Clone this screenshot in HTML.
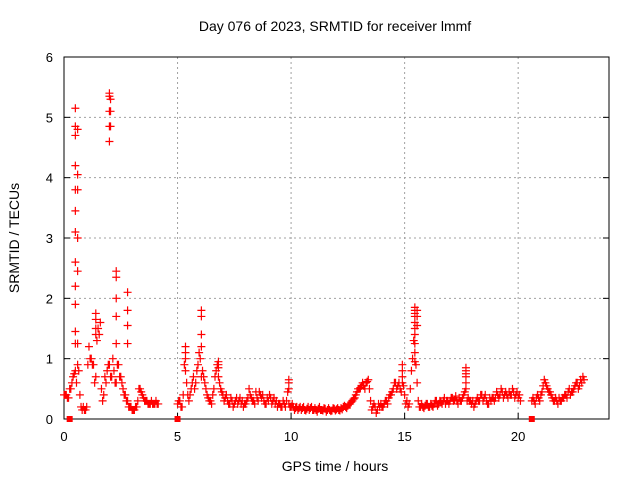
<!DOCTYPE html>
<html><head><meta charset="utf-8">
<style>
html,body{margin:0;padding:0;background:#fff;}
svg text{font-family:"Liberation Sans",sans-serif;fill:#000;}
</style></head>
<body>
<svg id="chart" width="640" height="480" viewBox="0 0 640 480">
  <text x="335" y="31" font-size="14" text-anchor="middle">Day 076 of 2023, SRMTID for receiver lmmf</text>
  <text x="335" y="471" font-size="14" text-anchor="middle">GPS time / hours</text>
  <text x="19" y="238" font-size="14" text-anchor="middle" transform="rotate(-90 19 238)">SRMTID / TECUs</text>
  <g id="grid"></g>
  <g id="axes"></g>
  <g id="marks"></g>
</svg>
<script>
const xTicks = [0,5,10,15,20];
const yTicks = [0,1,2,3,4,5,6];
const segAStart = 0.0, segBStart = 5.0, segCStart = 20.6, segStep = 0.1;
const segA2Start = 0.05, segB2Start = 5.05, segC2Start = 20.65;
const segAValues = [0.4,0.4,0.35,0.5,0.7,0.8,0.9,0.4,0.15,0.15,0.2,1.2,1.0,0.9,0.7,1.5,1.6,0.3,0.7,0.8,0.9,0.7,0.8,0.6,0.9,0.7,0.5,0.4,0.3,0.2,0.15,0.15,0.2,0.5,0.45,0.35,0.3,0.25,0.25,0.25,0.25,0.25];
const segA2Values = [0.4,0.35,0.5,0.6,0.75,0.6,0.8,0.2,0.2,0.15,0.9,1.0,0.9,0.6,1.3,1.4,0.5,0.4,0.6,0.9,0.7,1.0,0.6,0.9,0.7,0.6,0.4,0.3,0.2,0.2,0.15,0.2,0.3,0.5,0.4,0.3,0.3,0.25,0.3,0.25,0.3,0.25];
const segBValues = [
0.25,0.3,0.2,0.9,0.6,0.3,0.5,0.7,0.6,0.9,
1.0,0.8,0.6,0.4,0.3,0.25,0.5,0.8,0.7,0.5,
0.4,0.35,0.3,0.25,0.3,0.25,0.35,0.3,0.25,0.2,
0.25,0.35,0.4,0.3,0.25,0.35,0.45,0.35,0.3,0.25,
0.3,0.35,0.3,0.25,0.2,0.25,0.2,0.25,0.3,0.25,
0.2,0.2,0.18,0.15,0.2,0.18,0.15,0.17,0.15,0.2,
0.15,0.15,0.17,0.15,0.14,0.17,0.15,0.15,0.14,0.17,
0.16,0.15,0.18,0.2,0.2,0.22,0.25,0.3,0.35,0.45,
0.5,0.55,0.55,0.6,0.65,0.3,0.2,0.2,0.15,0.2,
0.2,0.25,0.3,0.35,0.4,0.5,0.6,0.55,0.5,0.6,
0.4,0.3,0.25,0.8,1.3,0.9,0.3,0.2,0.2,0.22,
0.25,0.2,0.22,0.25,0.3,0.25,0.28,0.3,0.25,0.3,
0.3,0.35,0.32,0.3,0.35,0.3,0.4,0.5,0.35,0.3,
0.3,0.25,0.35,0.3,0.4,0.35,0.3,0.25,0.3,0.35,
0.35,0.4,0.4,0.45,0.4,0.4,0.45,0.4,0.45,0.4,
0.35,0.3];
const segB2Values = [
0.3,0.2,0.4,0.8,0.4,0.4,0.6,0.5,0.8,1.1,
0.7,0.7,0.5,0.35,0.3,0.4,0.7,0.9,0.6,0.45,
0.3,0.4,0.25,0.35,0.2,0.3,0.25,0.35,0.3,0.25,
0.3,0.5,0.35,0.3,0.45,0.3,0.4,0.4,0.25,0.35,
0.4,0.25,0.35,0.3,0.25,0.2,0.3,0.2,0.45,0.2,
0.25,0.15,0.2,0.18,0.15,0.2,0.14,0.2,0.18,0.15,
0.18,0.12,0.2,0.15,0.18,0.12,0.18,0.13,0.18,0.14,
0.18,0.14,0.16,0.22,0.18,0.25,0.28,0.33,0.4,0.5,
0.52,0.6,0.5,0.62,0.5,0.15,0.25,0.1,0.25,0.25,
0.2,0.3,0.25,0.4,0.45,0.6,0.5,0.6,0.45,0.55,
0.25,0.2,0.5,1.0,1.1,0.6,0.2,0.25,0.18,0.25,
0.2,0.25,0.2,0.3,0.22,0.3,0.25,0.35,0.3,0.25,
0.35,0.3,0.38,0.25,0.3,0.35,0.45,0.3,0.3,0.25,
0.2,0.3,0.3,0.4,0.3,0.4,0.25,0.35,0.35,0.3,
0.45,0.35,0.5,0.35,0.45,0.35,0.4,0.5,0.35,0.45,
0.4];
const segCValues = [0.3,0.3,0.35,0.35,0.4,0.55,0.6,0.5,0.45,0.35,0.3,0.3,0.35,0.3,0.35,0.4,0.45,0.4,0.45,0.55,0.6,0.55,0.6,0.65];
const segC2Values = [0.35,0.25,0.4,0.3,0.45,0.65,0.55,0.45,0.4,0.3,0.35,0.25,0.3,0.35,0.4,0.35,0.5,0.45,0.5,0.6,0.5,0.65,0.7];
const spikeTimes = [0.5,0.5,0.5,0.5,0.5,0.5,0.5,0.5,0.5,0.5,0.5,0.5,0.6,0.6,0.6,0.6,0.6,0.6,2.0,2.0,2.0,2.0,2.0,2.05,2.05,2.05,2.3,2.3,2.3,2.3,2.3,2.8,2.8,2.8,2.8,1.4,1.4,1.4,1.4,6.05,6.05,6.05,6.05,5.35,5.35,5.35,15.45,15.45,15.45,15.45,15.45,15.45,15.45,15.45,15.45,15.45,15.55,15.55,15.55,14.9,14.9,14.9,17.7,17.7,17.7,17.7,17.7,9.9,9.9,9.9,6.8,6.8,6.8];
const spikeValues = [5.15,4.85,4.7,4.2,3.8,3.45,3.1,2.6,2.2,1.9,1.45,1.25,4.8,4.05,3.8,3.0,2.45,1.25,5.4,5.35,5.1,4.85,4.6,5.3,5.1,4.85,2.45,2.35,2.0,1.7,1.25,2.1,1.8,1.55,1.25,1.75,1.65,1.5,1.4,1.8,1.7,1.4,1.2,1.2,1.1,1.0,1.85,1.8,1.75,1.7,1.6,1.5,1.4,1.25,1.1,0.95,1.8,1.7,1.55,0.9,0.8,0.7,0.85,0.8,0.75,0.7,0.6,0.65,0.6,0.5,0.95,0.9,0.85];
const zeroTimes = [0.25,5.0,20.6];

const X0=64, X1=609, Y0=419, Y1=57, XMAX=24, YMAX=6;
const xs = t => X0 + (X1-X0)*t/XMAX;
const ys = v => Y0 - (Y0-Y1)*v/YMAX;
const NS='http://www.w3.org/2000/svg';
const grid=document.getElementById('grid'), axes=document.getElementById('axes'), marks=document.getElementById('marks');
function mk(tag, attrs, parent){const e=document.createElementNS(NS,tag);for(const k in attrs)e.setAttribute(k,attrs[k]);parent.appendChild(e);return e;}

xTicks.forEach(t=>{
  const x=xs(t);
  if(t>0){const g=mk('line',{x1:x,y1:Y0,x2:x,y2:Y1,stroke:'#a0a0a0','stroke-dasharray':'2,3'},grid);
  
  }
  const tk=mk('line',{x1:x,y1:Y0,x2:x,y2:Y0-6,stroke:'#000'},axes);
  
  
  const lb=mk('text',{x:x,y:Y0+22,'font-size':13,'text-anchor':'middle'},axes);lb.textContent=t;
  
  
});
yTicks.forEach(v=>{
  const y=ys(v);
  if(v>0&&v<6){const g=mk('line',{x1:X0,y1:y,x2:X1,y2:y,stroke:'#a0a0a0','stroke-dasharray':'2,3'},grid);
  
  }
  const tk=mk('line',{x1:X0,y1:y,x2:X0+6,y2:y,stroke:'#000'},axes);
  
  
  const tk2=mk('line',{x1:X1,y1:y,x2:X1-6,y2:y,stroke:'#000'},axes);
  
  
  const lb=mk('text',{x:X0-11,y:y+5,'font-size':13,'text-anchor':'end'},axes);lb.textContent=v;
  
  
});
const box=mk('rect',{x:X0,y:Y1,width:X1-X0,height:Y0-Y1,fill:'none',stroke:'#000'},axes);



let d='';
function plus(t,v){const x=xs(t),y=ys(v);d+=`M${x-4},${y}h8M${x},${y-4}v8`;}
segAValues.forEach((v,i)=>plus(segAStart+i*segStep,v));
segA2Values.forEach((v,i)=>plus(segA2Start+i*segStep,v));
segBValues.forEach((v,i)=>plus(segBStart+i*segStep,v));
segB2Values.forEach((v,i)=>plus(segB2Start+i*segStep,v));
segCValues.forEach((v,i)=>plus(segCStart+i*segStep,v));
segC2Values.forEach((v,i)=>plus(segC2Start+i*segStep,v));
spikeTimes.forEach((t,i)=>plus(t,spikeValues[i]));
const p=mk('path',{d:d,stroke:'#ff0000','stroke-width':1.2,fill:'none'},marks);


zeroTimes.forEach(t=>{
  const r=mk('rect',{x:xs(t)-3,y:Y0-3,width:6,height:6,fill:'#ff0000'},marks);
  
  
});
</script>
</body></html>
